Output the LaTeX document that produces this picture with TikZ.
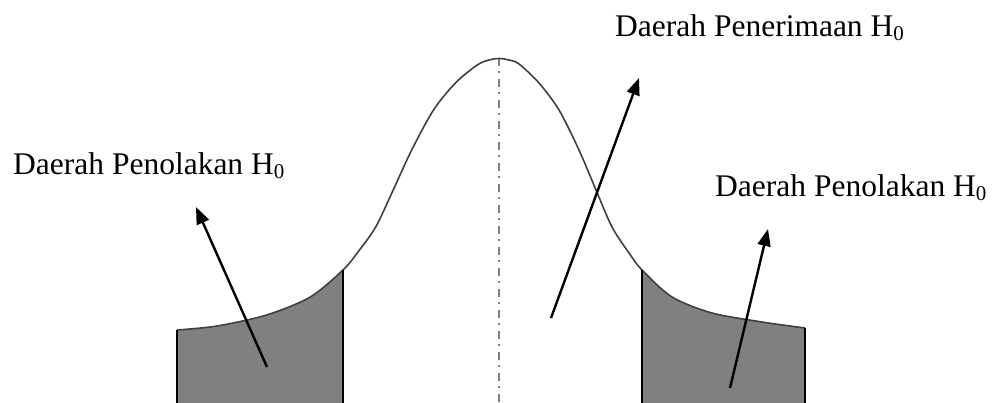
\documentclass[tikz,border=0pt]{standalone}
\usepackage{fontspec}
\setmainfont{Liberation Serif}
\usetikzlibrary{arrows.meta}
\newcommand{\Hnol}{H\raisebox{-4pt}{\fontsize{21}{21}\selectfont 0}}
\tikzset{
  lbl/.style={anchor=base west, inner sep=0pt, font=\fontsize{31.5}{36}\selectfont},
  pointer/.style={line width=2.4pt, -{Triangle[length=17pt,width=13pt]}},
  region/.style={fill=gray},
  edge/.style={line width=1.6pt, black},
  bell/.style={line width=1.6pt, black!75},
  axisline/.style={line width=2.4pt, black!50, dash pattern=on 8pt off 5pt on 2pt off 6pt}
}
\def\bellpts{(177,330) (217,326) (266.6,315) (310.3,297) (343,270) (357.2,253) (375.7,227) (393.2,190) (411.7,150) (433.5,110) (455.4,83) (477.2,65) (489,60) (499,58.5) (509,60) (519,64) (539,83) (559,110) (579,150) (596,190) (612,227) (629,253) (642,270) (672,297) (712,313) (762,322) (805,328)}
\begin{document}
\begin{tikzpicture}[x=1pt,y=-1pt]
\useasboundingbox (0,0) rectangle (995,403);
% shaded rejection regions
\begin{scope}
  \clip (177,0) rectangle (343,410);
  \fill[region] plot[smooth, tension=0.5] coordinates {\bellpts} -- (805,410) -- (177,410) -- cycle;
\end{scope}
\begin{scope}
  \clip (642,0) rectangle (805,410);
  \fill[region] plot[smooth, tension=0.5] coordinates {\bellpts} -- (805,410) -- (177,410) -- cycle;
\end{scope}
% centre line
\coordinate (top) at (499,58);
\coordinate (bot) at (499,403);
\draw[axisline] (top) -- (bot);
% bell curve
\draw[bell] plot[smooth, tension=0.5] coordinates {\bellpts};
% region borders
\coordinate (l1t) at (177,330); \coordinate (l1b) at (177,403);
\coordinate (l2t) at (343,270); \coordinate (l2b) at (343,403);
\coordinate (r1t) at (642,270); \coordinate (r1b) at (642,403);
\coordinate (r2t) at (805,328); \coordinate (r2b) at (805,403);
\draw[edge] (l1t) -- (l1b);
\draw[edge] (l2t) -- (l2b);
\draw[edge] (r1t) -- (r1b);
\draw[edge] (r2t) -- (r2b);
% labels
\node[lbl] (lleft) at (13,175) {Daerah Penolakan \Hnol};
\node[lbl] (ltop) at (615,37) {Daerah Penerimaan \Hnol};
\node[lbl] (lright) at (715,197) {Daerah Penolakan \Hnol};
% arrows
\coordinate (a1s) at (267,367); \coordinate (a1e) at (196,207);
\coordinate (a2s) at (551,318); \coordinate (a2e) at (639,78);
\coordinate (a3s) at (730,388); \coordinate (a3e) at (768,229);
\draw[pointer] (a1s) -- (a1e);
\draw[pointer] (a2s) -- (a2e);
\draw[pointer] (a3s) -- (a3e);
\end{tikzpicture}
\end{document}
